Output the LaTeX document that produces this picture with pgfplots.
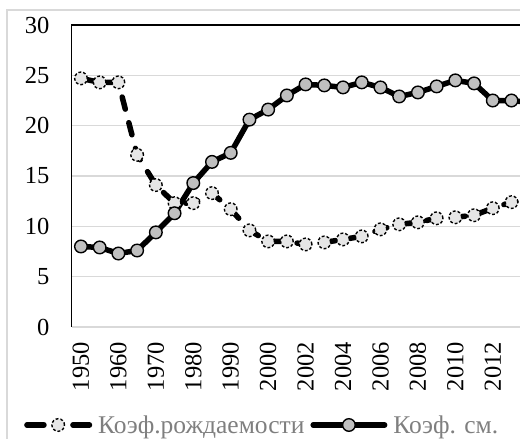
\documentclass[border=0pt]{standalone}
\usepackage{fontspec}
\setmainfont{Liberation Serif}
\usepackage{pgfplots}
\pgfplotsset{compat=1.18}
\definecolor{gridc}{HTML}{D9D9D9}
\definecolor{birthfill}{HTML}{E6E6E6}
\definecolor{deathfill}{HTML}{BFBFBF}
\definecolor{legtext}{HTML}{7F7F7F}
\pgfplotsset{
  birthleg/.style={legend image code/.code={\draw[##1, dash pattern=on 17pt off 29pt, mark repeat=2, mark phase=2] plot coordinates {(2.75pt,0pt) (34pt,0pt) (65.25pt,0pt)};}},
  deathleg/.style={legend image code/.code={\draw[##1, mark repeat=2, mark phase=2] plot coordinates {(2.75pt,0pt) (38.5pt,0pt) (74.25pt,0pt)};}},
}
\pgfplotstableread{
x y
0 24.7
1 24.3
2 24.3
3 17.1
4 14.1
5 12.3
6 12.3
7 13.3
8 11.7
9 9.6
10 8.5
11 8.5
12 8.2
13 8.4
14 8.7
15 9.0
16 9.7
17 10.2
18 10.4
19 10.8
20 10.9
21 11.1
22 11.8
23 12.4
24 12.6
}\birth
\pgfplotstableread{
x y
0 8.0
1 7.9
2 7.3
3 7.6
4 9.4
5 11.3
6 14.3
7 16.4
8 17.3
9 20.6
10 21.6
11 23.0
12 24.1
13 24.0
14 23.8
15 24.3
16 23.8
17 22.9
18 23.3
19 23.9
20 24.5
21 24.2
22 22.5
23 22.5
24 22.3
}\death
\begin{document}
\begin{tikzpicture}
\path[use as bounding box] (0pt,0pt) rectangle (520pt,439pt);
\clip (0pt,0pt) rectangle (520pt,439pt);
\draw[color=gridc, line width=1.2pt] (7pt,-10pt) -- (7pt,429pt) -- (700pt,429pt);
\begin{axis}[
  at={(71.6pt,112pt)}, anchor=south west,
  scale only axis, width=468pt, height=302pt,
  xmin=-0.5, xmax=24.5, ymin=0, ymax=30,
  ytick={0,5,...,25}, extra y ticks={30},
  extra y tick style={grid=none},
  xtick={0,2,...,22},
  xticklabels={1950,1960,1970,1980,1990,2000,2002,2004,2006,2008,2010,2012},
  axis line style={draw=none},
  major tick length=0pt,
  ymajorgrids, grid style={color=gridc, line width=1.5pt},
  /pgf/number format/assume math mode=true,
  tick label style={font=\fontsize{24.5}{28}\selectfont, inner sep=0pt},
  yticklabel style={anchor=east},
  xticklabel style={rotate=90, anchor=east},
  yticklabel shift=22pt,
  xticklabel shift=15pt,
  clip=false,
  legend columns=2,
  legend style={at={(-0.1017,-0.3245)}, anchor=west, draw=none, fill=none,
    inner sep=0pt, column sep=0pt,
    nodes={inner xsep=6pt, inner ysep=0pt},
    font=\fontsize{25.5}{28}\selectfont\color{legtext}},
]
\draw[black, line width=1.5pt] (rel axis cs:0,0) -- (rel axis cs:0,1) -- (rel axis cs:1,1);
\addplot[black, line width=5.5pt, line cap=round, dash pattern=on 12.5pt off 14pt,
  mark=*, mark size=6.3pt,
  mark options={draw=black, fill=birthfill, line width=1.4pt, dash pattern=on 2.8pt off 2pt, line cap=butt},
  birthleg
] table[x=x,y=y] {\birth};
\addlegendentry{Коэф.рождаемости}
\addplot[black, line width=5.5pt, line cap=round, solid,
  mark=*, mark size=6.3pt,
  mark options={draw=black, fill=deathfill, line width=1.4pt, solid},
  deathleg
] table[x=x,y=y] {\death};
\addlegendentry{Коэф. см.}
\end{axis}
\end{tikzpicture}
\end{document}
